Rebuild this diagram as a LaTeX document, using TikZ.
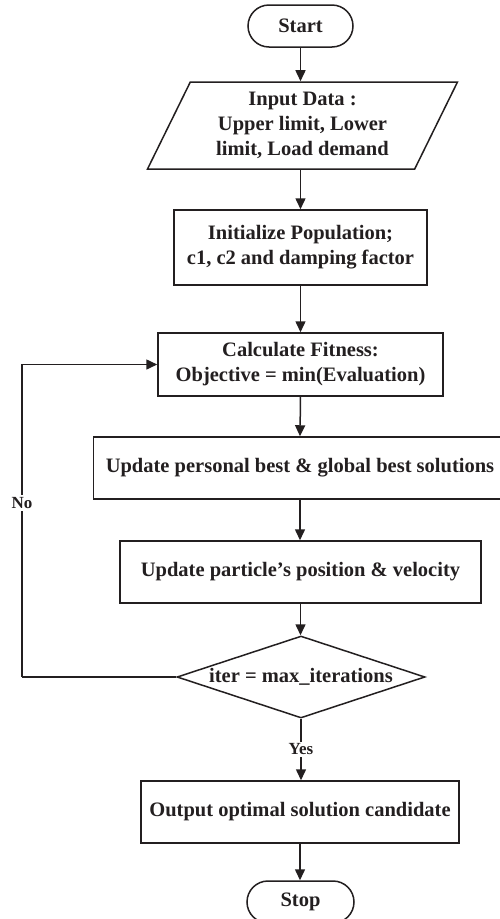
\documentclass[tikz,border=0pt]{standalone}
\usepackage{fontspec}
\setmainfont{Liberation Serif}
\usetikzlibrary{arrows.meta,shapes.misc,shapes.geometric}
\definecolor{ink}{RGB}{35,31,32}
\begin{document}
\begin{tikzpicture}[x=1pt,y=-1pt,
  every node/.style={font=\bfseries\fontsize{20.5}{25}\selectfont, text=ink, align=center, inner sep=0pt},
  box/.style={draw=ink, line width=1.5pt, rectangle},
  term/.style={draw=ink, line width=1.5pt, rounded rectangle, minimum width=105pt, minimum height=42pt},
  io/.style={draw=ink, line width=1.5pt, trapezium, trapezium stretches=true,
    trapezium left angle=63.7, trapezium right angle=116.3},
  choice/.style={draw=ink, line width=1.5pt, diamond, shape aspect=3.1, inner sep=0pt,
    minimum width=248pt, minimum height=82pt},
  tag/.style={fill=white, font=\bfseries\fontsize{17}{20}\selectfont, inner sep=2pt},
  flow/.style={draw=ink, line width=1.5pt, -{Triangle[length=11pt,width=10pt]}},
  wire/.style={draw=ink, line width=1.5pt}]
\clip (0,0) rectangle (500,919);
\fill[white] (0,0) rectangle (500,919);

% blocks of the flowchart
\node[term] (start) at (300.5,26) {Start};
\node[io, minimum width=311pt, minimum height=87pt] (input) at (302.5,125.5)
  {Input Data :\\Upper limit, Lower\\limit, Load demand};
\node[box, minimum width=253pt, minimum height=75pt] (init) at (300.5,247.5)
  {Initialize Population;\\c1, c2 and damping factor};
\node[box, minimum width=285pt, minimum height=63pt] (calc) at (300.5,364.5)
  {Calculate Fitness:\\Objective = min(Evaluation)};
\node[box, minimum width=413pt, minimum height=62pt] (best) at (300,468)
  {Update personal best \& global best solutions};
\node[box, minimum width=361pt, minimum height=62pt] (move) at (300.5,572)
  {Update particle’s position \& velocity};
\node[choice] (check) at (301,677) {iter = max\_iterations};
\node[box, minimum width=318pt, minimum height=62pt] (out) at (300,812)
  {Output optimal solution candidate};
\node[term, minimum width=107pt] (stop) at (300.5,902) {Stop};

% connectors
\draw[flow] (start.south) -- (start.south |- input.north);
\draw[flow] (init.north |- input.south) -- (init.north);
\draw[flow] (init.south) -- (calc.north);
\draw[flow] (calc.south) -- (best.north);
\draw[flow] (best.south) -- (best.south |- move.north);
\draw[flow] (move.south) -- (move.south |- check.north);
\draw[flow] (check.south) -- node[tag] {Yes} (check.south |- out.north);
\draw[flow] (out.south) -- (out.south |- stop.north);

% loop back when the iteration limit is not reached
\coordinate (lb) at (22,677);
\coordinate (lt) at (22,364.5);
\draw[wire] (check.west) -- (lb);
\draw[flow] (lb) -- node[tag, pos=0.557] {No} (lt) -- (calc.west);
\end{tikzpicture}
\end{document}
